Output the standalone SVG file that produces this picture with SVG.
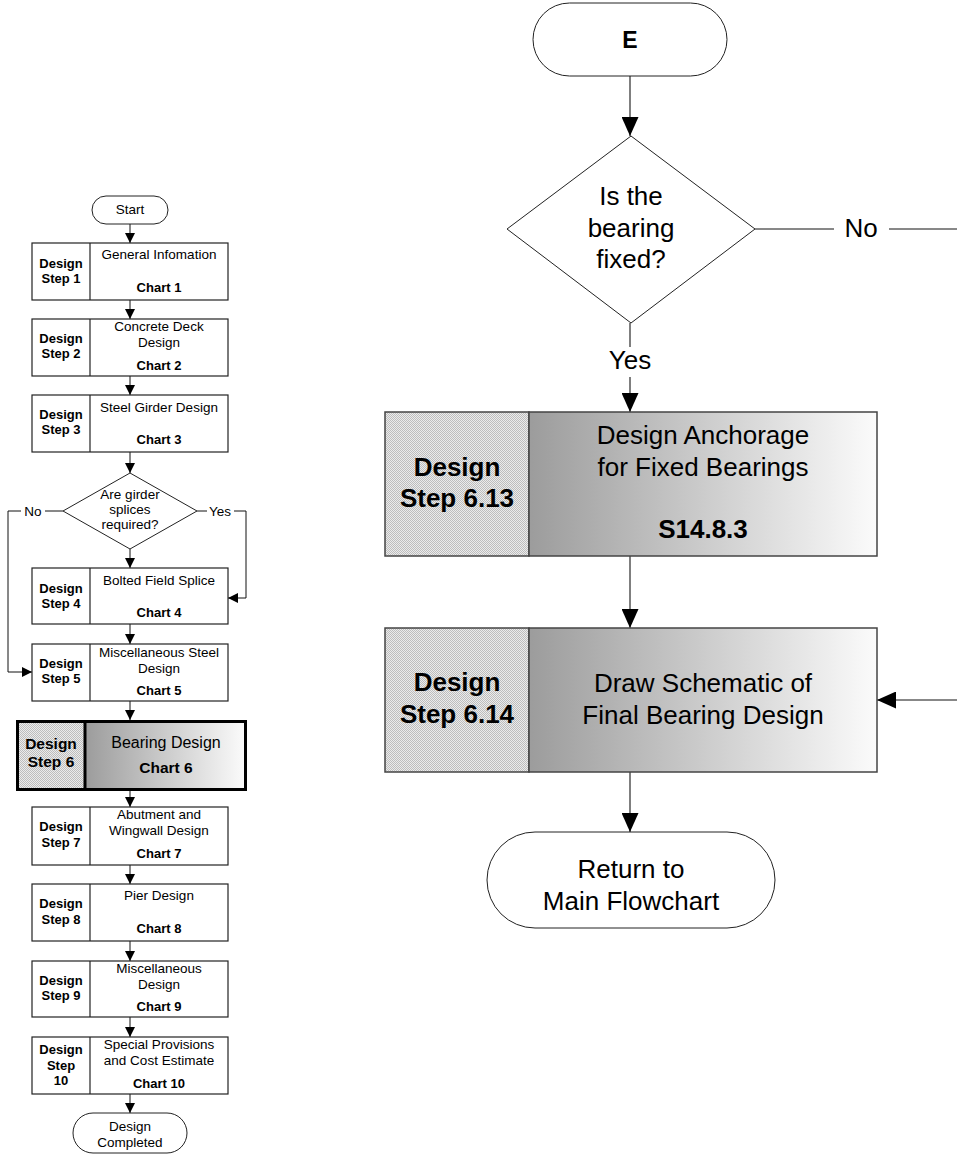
<svg xmlns="http://www.w3.org/2000/svg" width="957" height="1155" viewBox="0 0 957 1155">
<style>
text{font-family:"Liberation Sans",Arial,sans-serif;fill:#000}
.s{font-size:13.5px;text-anchor:middle}
.sb{font-size:13px;font-weight:bold;text-anchor:middle}
.L{font-size:26px;text-anchor:middle}
.Lb{font-size:26px;font-weight:bold;text-anchor:middle}
.box{fill:#fff;stroke:#222;stroke-width:1.2}
.shape{fill:#fff;stroke:#222;stroke-width:1}
.big{stroke:#444;stroke-width:1.5}
.con{fill:none;stroke:#111;stroke-width:1}
.conb{fill:none;stroke:#555;stroke-width:1.5}
</style>
<defs>
<pattern id="dots" width="2" height="2" patternUnits="userSpaceOnUse">
<rect width="2" height="2" fill="#ebebeb"/>
<rect width="1" height="1" fill="#bdbdbd"/>
<rect x="1" y="1" width="1" height="1" fill="#bdbdbd"/>
</pattern>
<linearGradient id="grad" x1="0" y1="0" x2="1" y2="0">
<stop offset="0" stop-color="#9c9c9c"/>
<stop offset="1" stop-color="#fbfbfb"/>
</linearGradient>
<marker id="as" markerUnits="userSpaceOnUse" markerWidth="10" markerHeight="10" refX="10" refY="5" orient="auto">
<path d="M0,0 L10,5 L0,10 z" fill="#000"/>
</marker>
<marker id="al" markerUnits="userSpaceOnUse" markerWidth="19" markerHeight="17" refX="19" refY="8.5" orient="auto">
<path d="M0,0 L19,8.5 L0,17 z" fill="#000"/>
</marker>
</defs>

<g id="connectors">
<!-- left overview -->
<line class="con" x1="130" y1="224" x2="130" y2="243" marker-end="url(#as)"/>
<line class="con" x1="130" y1="300" x2="130" y2="319" marker-end="url(#as)"/>
<line class="con" x1="130" y1="376" x2="130" y2="395" marker-end="url(#as)"/>
<line class="con" x1="130" y1="452" x2="130" y2="473" marker-end="url(#as)"/>
<line class="con" x1="63" y1="511" x2="45" y2="511"/>
<polyline class="con" points="21,511 8,511 8,672 32,672" marker-end="url(#as)"/>
<line class="con" x1="197" y1="511" x2="207" y2="511"/>
<polyline class="con" points="234,511 246,511 246,598 228,598" marker-end="url(#as)"/>
<line class="con" x1="130" y1="549" x2="130" y2="568" marker-end="url(#as)"/>
<line class="con" x1="130" y1="624" x2="130" y2="644" marker-end="url(#as)"/>
<line class="con" x1="130" y1="701" x2="130" y2="720" marker-end="url(#as)"/>
<line class="con" x1="130" y1="791" x2="130" y2="807" marker-end="url(#as)"/>
<line class="con" x1="130" y1="865" x2="130" y2="884" marker-end="url(#as)"/>
<line class="con" x1="130" y1="941" x2="130" y2="961" marker-end="url(#as)"/>
<line class="con" x1="130" y1="1017" x2="130" y2="1037" marker-end="url(#as)"/>
<line class="con" x1="130" y1="1094" x2="130" y2="1113" marker-end="url(#as)"/>
<text class="s" x="33" y="516">No</text>
<text class="s" x="220" y="516">Yes</text>
<!-- right detail -->
<line class="conb" x1="630" y1="76" x2="630" y2="136" marker-end="url(#al)"/>
<line class="conb" x1="630" y1="323" x2="630" y2="347"/>
<line class="conb" x1="630" y1="377" x2="630" y2="412" marker-end="url(#al)"/>
<line class="con" x1="755" y1="229" x2="834" y2="229"/>
<line class="con" x1="889" y1="229" x2="957" y2="229"/>
<line class="con" x1="957" y1="700" x2="877" y2="700" marker-end="url(#al)"/>
<line class="conb" x1="630" y1="556" x2="630" y2="628" marker-end="url(#al)"/>
<line class="conb" x1="630" y1="772" x2="630" y2="832" marker-end="url(#al)"/>
<text class="L" x="630" y="369">Yes</text>
<text class="L" x="861" y="237">No</text>
</g>

<g id="start">
<rect class="shape" x="92" y="196" width="76" height="28" rx="14"/>
<text class="s" x="130" y="214">Start</text>
</g>

<g id="step1">
<rect class="box" x="32" y="243" width="196" height="57"/>
<line class="box" x1="90" y1="243" x2="90" y2="300"/>
<text class="sb" x="61" y="268">Design</text>
<text class="sb" x="61" y="283">Step 1</text>
<text class="s" x="159" y="259">General Infomation</text>
<text class="sb" x="159" y="292">Chart 1</text>
</g>

<g id="step2">
<rect class="box" x="32" y="319" width="196" height="57"/>
<line class="box" x1="90" y1="319" x2="90" y2="376"/>
<text class="sb" x="61" y="343">Design</text>
<text class="sb" x="61" y="358">Step 2</text>
<text class="s" x="159" y="331">Concrete Deck</text>
<text class="s" x="159" y="347">Design</text>
<text class="sb" x="159" y="370">Chart 2</text>
</g>

<g id="step3">
<rect class="box" x="32" y="395" width="196" height="57"/>
<line class="box" x1="90" y1="395" x2="90" y2="452"/>
<text class="sb" x="61" y="419">Design</text>
<text class="sb" x="61" y="434">Step 3</text>
<text class="s" x="159" y="412">Steel Girder Design</text>
<text class="sb" x="159" y="444">Chart 3</text>
</g>

<g id="splice-decision">
<polygon class="shape" points="130,473 197,511 130,549 63,511"/>
<text class="s" x="130" y="499">Are girder</text>
<text class="s" x="130" y="514">splices</text>
<text class="s" x="130" y="529">required?</text>
</g>

<g id="step4">
<rect class="box" x="32" y="568" width="196" height="56"/>
<line class="box" x1="90" y1="568" x2="90" y2="624"/>
<text class="sb" x="61" y="593">Design</text>
<text class="sb" x="61" y="608">Step 4</text>
<text class="s" x="159" y="585">Bolted Field Splice</text>
<text class="sb" x="159" y="617">Chart 4</text>
</g>

<g id="step5">
<rect class="box" x="32" y="644" width="196" height="57"/>
<line class="box" x1="90" y1="644" x2="90" y2="701"/>
<text class="sb" x="61" y="668">Design</text>
<text class="sb" x="61" y="683">Step 5</text>
<text class="s" x="159" y="657">Miscellaneous Steel</text>
<text class="s" x="159" y="673">Design</text>
<text class="sb" x="159" y="695">Chart 5</text>
</g>

<g id="step6">
<rect x="17.5" y="721.5" width="68" height="68" fill="url(#dots)"/>
<rect x="85" y="721.5" width="160.5" height="68" fill="url(#grad)"/>
<rect x="17.5" y="721.5" width="228" height="68" fill="none" stroke="#000" stroke-width="3"/>
<line x1="85" y1="721" x2="85" y2="790" stroke="#000" stroke-width="3"/>
<text class="sb" style="font-size:15.5px" x="51" y="749">Design</text>
<text class="sb" style="font-size:15.5px" x="51" y="767">Step 6</text>
<text class="s" style="font-size:16px" x="166" y="748">Bearing Design</text>
<text class="sb" style="font-size:15.5px" x="166" y="773">Chart 6</text>
</g>

<g id="step7">
<rect class="box" x="32" y="807" width="196" height="58"/>
<line class="box" x1="90" y1="807" x2="90" y2="865"/>
<text class="sb" x="61" y="831">Design</text>
<text class="sb" x="61" y="847">Step 7</text>
<text class="s" x="159" y="819">Abutment and</text>
<text class="s" x="159" y="835">Wingwall Design</text>
<text class="sb" x="159" y="858">Chart 7</text>
</g>

<g id="step8">
<rect class="box" x="32" y="884" width="196" height="57"/>
<line class="box" x1="90" y1="884" x2="90" y2="941"/>
<text class="sb" x="61" y="908">Design</text>
<text class="sb" x="61" y="924">Step 8</text>
<text class="s" x="159" y="900">Pier Design</text>
<text class="sb" x="159" y="933">Chart 8</text>
</g>

<g id="step9">
<rect class="box" x="32" y="961" width="196" height="56"/>
<line class="box" x1="90" y1="961" x2="90" y2="1017"/>
<text class="sb" x="61" y="985">Design</text>
<text class="sb" x="61" y="1000">Step 9</text>
<text class="s" x="159" y="973">Miscellaneous</text>
<text class="s" x="159" y="989">Design</text>
<text class="sb" x="159" y="1011">Chart 9</text>
</g>

<g id="step10">
<rect class="box" x="32" y="1037" width="196" height="57"/>
<line class="box" x1="90" y1="1037" x2="90" y2="1094"/>
<text class="sb" x="61" y="1054">Design</text>
<text class="sb" x="61" y="1070">Step</text>
<text class="sb" x="61" y="1085">10</text>
<text class="s" x="159" y="1049">Special Provisions</text>
<text class="s" x="159" y="1065">and Cost Estimate</text>
<text class="sb" x="159" y="1088">Chart 10</text>
</g>

<g id="completed">
<rect class="shape" x="73" y="1113" width="114" height="40" rx="20"/>
<text class="s" x="130" y="1131">Design</text>
<text class="s" x="130" y="1147">Completed</text>
</g>

<g id="E">
<rect class="shape" x="533" y="3" width="194" height="73" rx="36.5"/>
<text class="Lb" style="font-size:23px" x="630" y="48">E</text>
</g>

<g id="fixed-decision">
<polygon class="shape" points="631,136 755,229 631,323 507,229"/>
<text class="L" x="631" y="205">Is the</text>
<text class="L" x="631" y="237">bearing</text>
<text class="L" x="631" y="268">fixed?</text>
</g>

<g id="step6-13">
<rect x="385" y="412" width="144" height="144" fill="url(#dots)" class="big"/>
<rect x="529" y="412" width="348" height="144" fill="url(#grad)" class="big"/>
<text class="Lb" x="457" y="476">Design</text>
<text class="Lb" x="457" y="507">Step 6.13</text>
<text class="L" x="703" y="444">Design Anchorage</text>
<text class="L" x="703" y="476">for Fixed Bearings</text>
<text class="Lb" x="703" y="538">S14.8.3</text>
</g>

<g id="step6-14">
<rect x="385" y="628" width="144" height="144" fill="url(#dots)" class="big"/>
<rect x="529" y="628" width="348" height="144" fill="url(#grad)" class="big"/>
<text class="Lb" x="457" y="691">Design</text>
<text class="Lb" x="457" y="723">Step 6.14</text>
<text class="L" x="703" y="692">Draw Schematic of</text>
<text class="L" x="703" y="724">Final Bearing Design</text>
</g>

<g id="return">
<rect class="shape" x="487" y="832" width="288" height="96" rx="48"/>
<text class="L" x="631" y="878">Return to</text>
<text class="L" x="631" y="910">Main Flowchart</text>
</g>
</svg>
